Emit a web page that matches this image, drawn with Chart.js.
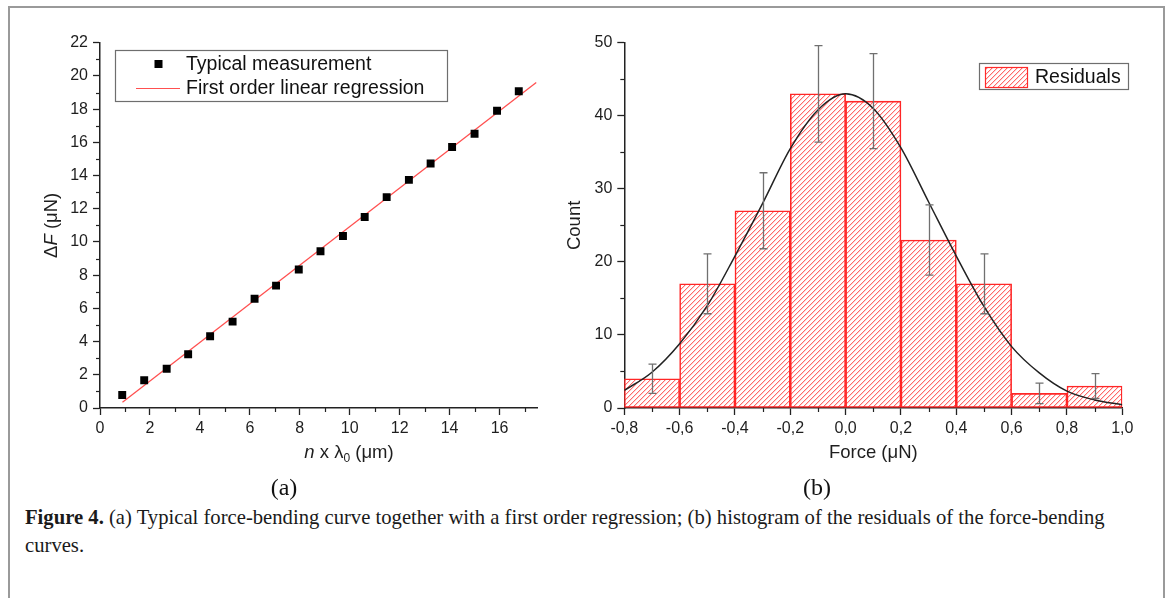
<!DOCTYPE html>
<html><head><meta charset="utf-8">
<script src="https://cdn.jsdelivr.net/npm/chart.js@4.4.1/dist/chart.umd.min.js"></script>
<style>
html,body{margin:0;padding:0;background:#fff;width:1171px;height:598px;overflow:hidden;}
#frame{position:absolute;left:8px;top:6px;width:1153px;height:640px;border:2px solid #9a9a9a;border-bottom:none;}
#c1{position:absolute;left:0;top:0;}
#c2{position:absolute;left:560px;top:0;}
.panel{position:absolute;font-family:"Liberation Serif","Times New Roman",serif;font-size:24px;color:#111;transform:translate(-50%,-50%);line-height:1;}
#caption{position:absolute;left:25px;top:503px;font-family:"Liberation Serif","Times New Roman",serif;font-size:18px;line-height:28px;color:#1a1a1a;white-space:nowrap;}
</style></head>
<body>
<div id="frame"></div>
<canvas id="c1" width="560" height="480"></canvas>
<canvas id="c2" width="600" height="480"></canvas>
<div class="panel" style="left:284px;top:487px;">(a)</div>
<div class="panel" style="left:817px;top:487px;">(b)</div>
<div id="caption"><span id="cap1"><b>Figure 4.</b> (a) Typical force-bending curve together with a first order regression; (b) histogram of the residuals of the force-bending</span><br>curves.</div>
<script>
// ---------- data: panel (a) ----------
const measureX = [0.89,1.77,2.67,3.53,4.41,5.31,6.19,7.05,7.96,8.83,9.73,10.60,11.48,12.37,13.24,14.10,15.00,15.90,16.77];
const measureF = [0.78,1.67,2.36,3.24,4.32,5.20,6.58,7.37,8.34,9.44,10.36,11.50,12.70,13.74,14.72,15.72,16.52,17.90,19.08];
const regressionX = [0.90,17.47];
const regressionF = [0.34,19.60];
const aTickLabelsX = ['0','2','4','6','8','10','12','14','16'];
const aTickLabelsY = ['0','2','4','6','8','10','12','14','16','18','20','22'];
const aMinorX = [1,3,5,7,9,11,13,15,17];
const aMinorY = [1,3,5,7,9,11,13,15,17,19,21];
// ---------- data: panel (b) ----------
const binCenters = [-0.7,-0.5,-0.3,-0.1,0.1,0.3,0.5,0.7,0.9];
const counts = [4,17,27,43,42,23,17,2,3];
const countErrors = [2.0,4.1,5.2,6.6,6.5,4.8,4.1,1.4,1.7];
const fitForce = [-0.8,-0.7,-0.6,-0.5,-0.4,-0.3,-0.2,-0.1,0.0,0.1,0.2,0.3,0.4,0.5,0.6,0.7,0.8,0.9,1.0];
const fitCount = [2.4,4.9,8.8,14.0,20.8,28.0,35.5,40.8,43.0,41.0,35.6,28.2,20.8,13.9,8.4,4.8,2.3,1.1,0.45];
const bTickLabelsX = ['-0,8','-0,6','-0,4','-0,2','0,0','0,2','0,4','0,6','0,8','1,0'];
const bTickLabelsY = ['0','10','20','30','40','50'];
const bMinorX = [-0.7,-0.5,-0.3,-0.1,0.1,0.3,0.5,0.7,0.9];
const bMinorY = [5,15,25,35,45];

const SANS = '"Liberation Sans", Arial, sans-serif';
Chart.defaults.font.family = SANS;
Chart.defaults.font.size = 16;
Chart.defaults.color = '#1e1e1e';
const AX = '#222';

function axisStyle(){
  return {
    grid:{display:true, drawOnChartArea:false, drawTicks:true, tickLength:7, tickColor:AX, tickWidth:1.3, offset:false},
    border:{display:true, color:AX, width:1.5},
  };
}

const minorTicks = {
  id:'minorTicks',
  afterDraw(chart, args, o){
    const ctx = chart.ctx, a = chart.chartArea, xs = chart.scales.x, ys = chart.scales.y;
    ctx.save(); ctx.strokeStyle = AX; ctx.lineWidth = 1.2;
    (o.x||[]).forEach(v=>{const p = Math.round(xs.getPixelForValue(v))+0.5; ctx.beginPath(); ctx.moveTo(p,a.bottom); ctx.lineTo(p,a.bottom+4); ctx.stroke();});
    (o.y||[]).forEach(v=>{const p = Math.round(ys.getPixelForValue(v))+0.5; ctx.beginPath(); ctx.moveTo(a.left,p); ctx.lineTo(a.left-4,p); ctx.stroke();});
    ctx.restore();
  }
};

function drawRich(ctx, segs, cx, cy, rot){
  ctx.save(); ctx.translate(cx, cy); ctx.rotate(rot);
  ctx.textAlign = 'left'; ctx.textBaseline = 'middle'; ctx.fillStyle = '#1e1e1e';
  const fonts = segs.map(s => (s.i ? 'italic ' : '') + (s.sub ? '12px ' : '18.5px ') + SANS);
  const widths = segs.map((s,k)=>{ctx.font = fonts[k]; return ctx.measureText(s.t).width;});
  let x = -widths.reduce((p,c)=>p+c,0)/2;
  segs.forEach((s,k)=>{ctx.font = fonts[k]; ctx.fillText(s.t, x, s.sub ? 6 : 0); x += widths[k];});
  ctx.restore();
}

// ---------- panel (a) ----------
const panelA = {
  id:'panelA',
  afterDraw(chart){
    const ctx = chart.ctx, a = chart.chartArea;
    drawRich(ctx, [{t:'\u0394'},{t:'F',i:true},{t:' (\u03bcN)'}], 52, (a.top+a.bottom)/2, -Math.PI/2);
    drawRich(ctx, [{t:'n',i:true},{t:' x \u03bb'},{t:'0',sub:true},{t:' (\u03bcm)'}], 349, 453, 0);
    ctx.save();
    ctx.strokeStyle = '#6e6e6e'; ctx.lineWidth = 1.2;
    ctx.strokeRect(115.5, 50.5, 332, 51);
    ctx.fillStyle = '#000'; ctx.fillRect(154.5, 60, 8, 8);
    ctx.strokeStyle = '#ff5050'; ctx.lineWidth = 1.2;
    ctx.beginPath(); ctx.moveTo(136, 88.5); ctx.lineTo(180, 88.5); ctx.stroke();
    ctx.fillStyle = '#111'; ctx.font = '19.5px ' + SANS; ctx.textBaseline = 'middle'; ctx.textAlign='left';
    ctx.fillText('Typical measurement', 186, 65);
    ctx.fillText('First order linear regression', 186, 89);
    ctx.restore();
  }
};

new Chart(document.getElementById('c1'), {
  type:'scatter',
  data:{datasets:[
    {label:'Typical measurement', data: measureX.map((x,i)=>({x, y: measureF[i]})),
     pointStyle:'rect', pointRadius:5.6, pointHoverRadius:5.6, backgroundColor:'#000', borderWidth:0, order:0},
    {type:'line', label:'First order linear regression', data: regressionX.map((x,i)=>({x, y: regressionF[i]})),
     showLine:true, borderColor:'#ff5050', borderWidth:1.3, pointRadius:0, fill:false, order:1}
  ]},
  options:{
    responsive:false, animation:false, events:[],
    layout:{padding:{left:0, right:23, top:42.7, bottom:15.9}},
    plugins:{legend:{display:false}, tooltip:{enabled:false}, minorTicks:{x:aMinorX, y:aMinorY}},
    scales:{
      x:Object.assign(axisStyle(), {type:'linear', min:0, max:17.5,
        ticks:{stepSize:2, includeBounds:false, padding:4, callback:v=>aTickLabelsX[Math.round(v/2)]},
        afterFit:s=>{s.height = 56.1;}}),
      y:Object.assign(axisStyle(), {type:'linear', min:0, max:22,
        ticks:{stepSize:2, padding:5, callback:v=>aTickLabelsY[Math.round(v/2)]},
        afterFit:s=>{s.width = 100;}})
    }
  },
  plugins:[minorTicks, panelA]
});

// ---------- panel (b) ----------
function hatch(){
  const n = 5;
  const c = document.createElement('canvas'); c.width = n; c.height = n;
  const g = c.getContext('2d');
  g.fillStyle = '#ffffff'; g.fillRect(0,0,n,n);
  g.fillStyle = '#ffd2d2';
  for (let i = 0; i < n; i++) g.fillRect(i, (2*n-i) % n, 1, 1);
  g.fillStyle = '#ff6a6a';
  for (let i = 0; i < n; i++) g.fillRect(i, n-1-i, 1, 1);
  return g.createPattern(c, 'repeat');
}
const hatchPattern = hatch();

const panelB = {
  id:'panelB',
  afterDatasetsDraw(chart){
    const ctx = chart.ctx, xs = chart.scales.x, ys = chart.scales.y;
    ctx.save(); ctx.strokeStyle = '#707070'; ctx.lineWidth = 1.3;
    binCenters.forEach((c,i)=>{
      const px = Math.round(xs.getPixelForValue(c))+0.5;
      const t = ys.getPixelForValue(counts[i]+countErrors[i]);
      const b = ys.getPixelForValue(counts[i]-countErrors[i]);
      ctx.beginPath();
      ctx.moveTo(px,t); ctx.lineTo(px,b);
      ctx.moveTo(px-4,t); ctx.lineTo(px+4,t);
      ctx.moveTo(px-4,b); ctx.lineTo(px+4,b);
      ctx.stroke();
    });
    ctx.restore();
  },
  afterDraw(chart){
    const ctx = chart.ctx;
    ctx.save();
    ctx.strokeStyle = '#6e6e6e'; ctx.lineWidth = 1.2;
    ctx.strokeRect(419.5, 63.5, 149, 26);
    ctx.fillStyle = hatchPattern; ctx.fillRect(425, 67, 43, 21);
    ctx.strokeStyle = '#ff2a2a'; ctx.lineWidth = 1.2; ctx.strokeRect(425.5, 67.5, 42, 20);
    ctx.fillStyle = '#111'; ctx.font = '19.5px ' + SANS; ctx.textBaseline='middle'; ctx.textAlign='left';
    ctx.fillText('Residuals', 475, 78);
    ctx.restore();
  }
};

new Chart(document.getElementById('c2'), {
  type:'bar',
  data:{datasets:[
    {type:'bar', label:'Residuals', data: binCenters.map((x,i)=>({x, y: counts[i]})),
     backgroundColor: hatchPattern, borderColor:'#ff2626', borderWidth:1.6, borderSkipped:false,
     barPercentage:1, categoryPercentage:1, order:2},
    {type:'line', label:'Gaussian fit', data: fitForce.map((x,i)=>({x, y: fitCount[i]})),
     borderColor:'#222', borderWidth:1.5, pointRadius:0, fill:false, cubicInterpolationMode:'monotone', order:1}
  ]},
  options:{
    responsive:false, animation:false, events:[],
    layout:{padding:{left:0, right:37.7, top:42.7, bottom:15.9}},
    plugins:{legend:{display:false}, tooltip:{enabled:false}, minorTicks:{x:bMinorX, y:bMinorY}},
    scales:{
      x:Object.assign(axisStyle(), {type:'linear', min:-0.8, max:1.0, offset:false,
        ticks:{stepSize:0.2, padding:4, callback:v=>bTickLabelsX[Math.round((v+0.8)/0.2)]},
        title:{display:true, text:'Force (\u03bcN)', font:{size:18.5}, color:'#1e1e1e', padding:{top:0,bottom:0}},
        afterFit:s=>{s.height = 56.1;}}),
      y:Object.assign(axisStyle(), {type:'linear', min:0, max:50, beginAtZero:true,
        ticks:{stepSize:10, padding:5, callback:v=>bTickLabelsY[Math.round(v/10)]},
        title:{display:true, text:'Count', font:{size:18.5}, color:'#1e1e1e', padding:{top:3.4,bottom:0}},
        afterFit:s=>{s.width = 64.3;}})
    }
  },
  plugins:[minorTicks, panelB]
});

(function(){
  const cap = document.getElementById('caption'), l1 = document.getElementById('cap1');
  const target = 1080;
  const w = l1.getBoundingClientRect().width;
  cap.style.fontSize = (18 * target / w).toFixed(2) + 'px';
})();
</script>
</body></html>
